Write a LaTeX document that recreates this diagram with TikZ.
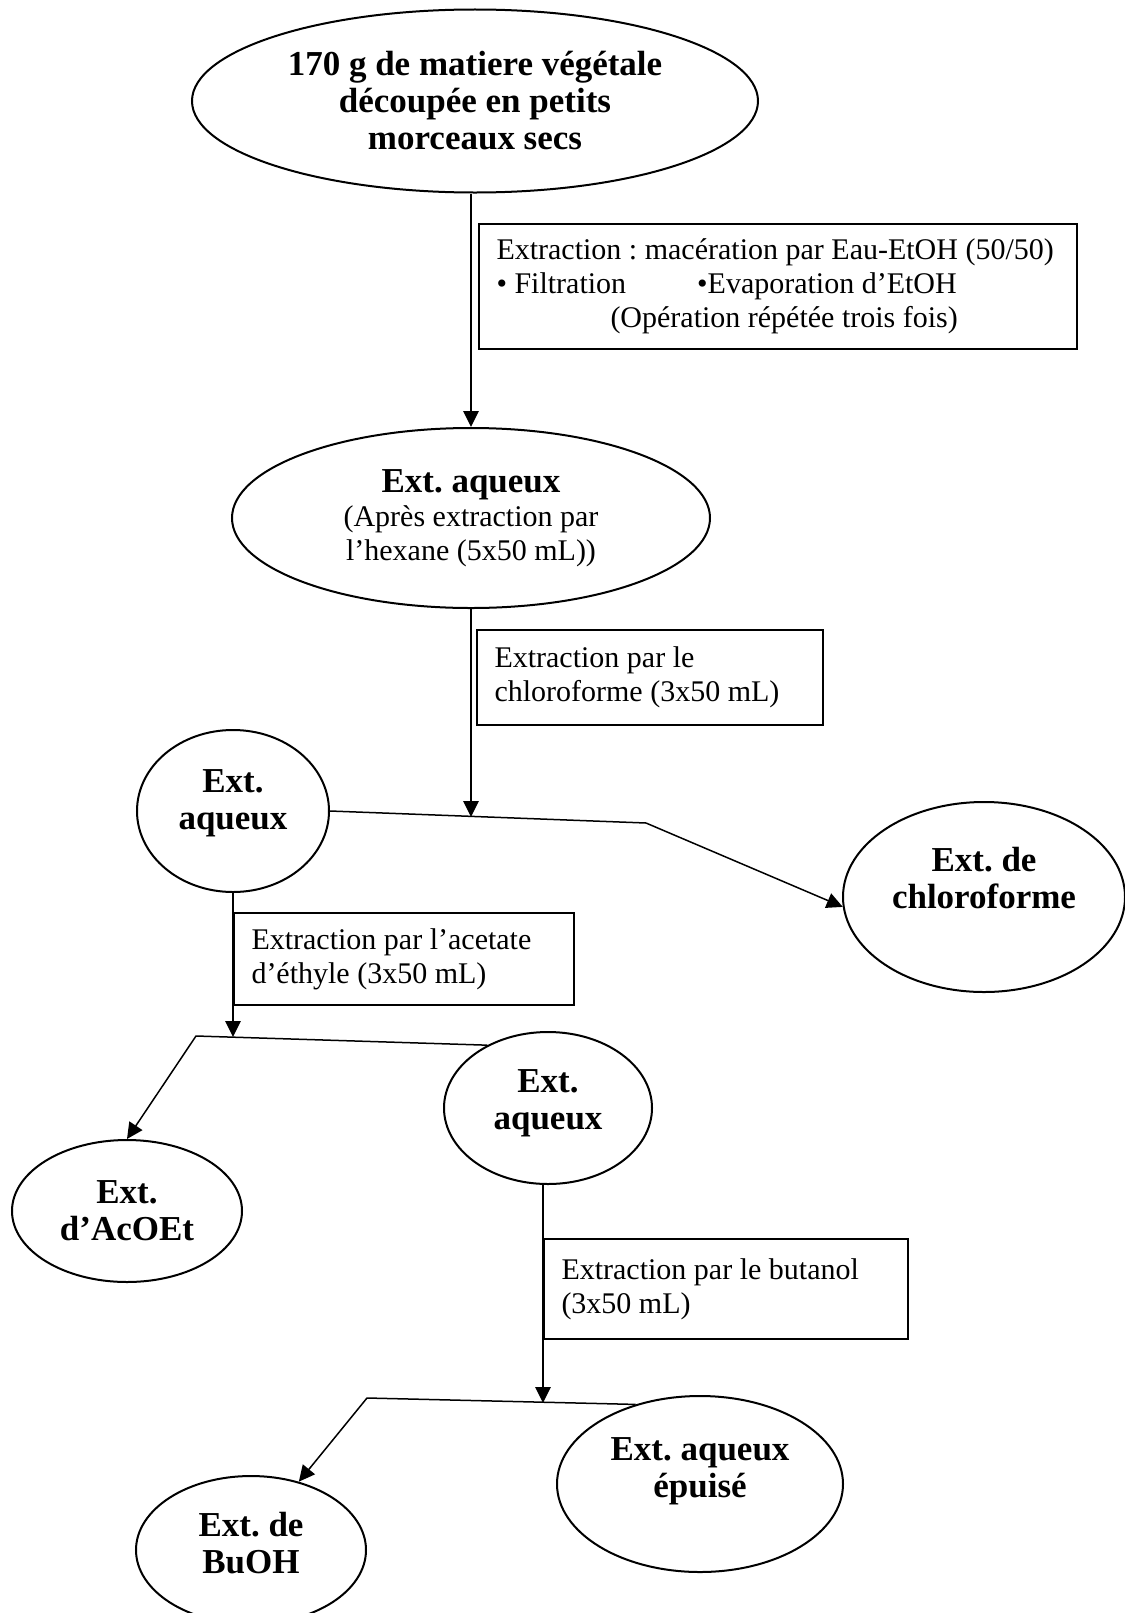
\documentclass[tikz,border=0pt]{standalone}
\usepackage{fontspec}
\setmainfont{Liberation Serif}
\frenchspacing
\usepackage{tikz}
\usetikzlibrary{arrows.meta,shapes.geometric}

\begin{document}
\begin{tikzpicture}[x=0.4pt, y=-0.4pt, >={Triangle[length=6.4pt,width=6.2pt]},
  ext/.style={ellipse,draw,line width=0.8pt,inner sep=0pt,align=flush center,
    font=\fontsize{14}{14.8}\selectfont\bfseries},
  lift/.style={text depth=#1},
  opbox/.style={rectangle,draw,line width=0.8pt,inner xsep=7pt,inner ysep=0pt,
    align=flush left,font=\fontsize{12}{13.6}\selectfont},
  flow/.style={line width=0.6pt}]
\useasboundingbox (0,0) rectangle (1125,1613);
% --- extraction extracts ---
  \node[ext,minimum width=226.4pt,minimum height=73.2pt] (plant) at (475,101)
    {170 g de matiere végétale\\découpée en petits\\morceaux secs};
  \node[ext,minimum width=191.2pt,minimum height=72pt,
    font=\fontsize{12}{13.6}\selectfont] (aqhex) at (471,518)
    {\textbf{\fontsize{14}{14.8}\selectfont Ext. aqueux}\\(Après extraction par\\l’hexane (5x50 mL))};
  \node[ext,lift=9pt,minimum width=76.8pt,minimum height=64.8pt] (aqchl) at (233,811) {Ext.\\aqueux};
  \node[ext,lift=15pt,minimum width=112.8pt,minimum height=76pt] (chl) at (984,897) {Ext. de\\chloroforme};
  \node[ext,minimum width=92pt,minimum height=56.8pt] (acoet) at (127,1211) {Ext.\\d’AcOEt};
  \node[ext,lift=7pt,minimum width=83.2pt,minimum height=60.8pt] (aqac) at (548,1108) {Ext.\\aqueux};
  \node[ext,lift=13pt,minimum width=114.4pt,minimum height=70.4pt] (epuise) at (700,1484) {Ext. aqueux\\épuisé};
  \node[ext,lift=6pt,minimum width=92pt,minimum height=59.2pt] (buoh) at (251,1550) {Ext. de\\BuOH};
% --- operations ---
  \node[opbox,text width=225.2pt,minimum height=50pt] (macer) at (778,286)
    {Extraction : macération par Eau-EtOH (50/50)\\
     • Filtration\hspace{28.4pt}•Evaporation d’EtOH\\
     \hspace*{45.6pt}(Opération répétée trois fois)};
  \node[opbox,text width=124.4pt,minimum height=38pt] (opchl) at (650,677.5)
    {Extraction par le\\chloroforme (3x50 mL)};
  \node[opbox,text width=122pt,minimum height=36.8pt] (opac) at (404,959)
    {Extraction par l’acetate\\d’éthyle (3x50 mL)};
  \node[opbox,text width=131.6pt,minimum height=40pt] (opbu) at (726,1289)
    {Extraction par le butanol\\(3x50 mL)};
% --- split points ---
  \coordinate (j1) at (471,817);
  \coordinate (b1) at (646,823);
  \coordinate (j2) at (233,1037);
  \coordinate (b2) at (196,1036);
  \coordinate (j3) at (543,1403);
  \coordinate (b3) at (367,1398);
  \draw[flow,->] (aqhex.north |- plant.south) -- (aqhex.north);
  \draw[flow,->] (aqhex.south) -- (j1);
  \draw[flow,->] (aqchl.east) -- (b1) -- (chl.184);
  \draw[flow,->] (aqchl.south) -- (j2);
  \draw[flow,->] (aqac.134) -- (b2) -- (acoet.north);
  \draw[flow,->] (j3 |- aqac.south) -- (j3);
  \draw[flow,->] (epuise.129) -- (b3) -- (buoh.55);
\end{tikzpicture}
\end{document}
